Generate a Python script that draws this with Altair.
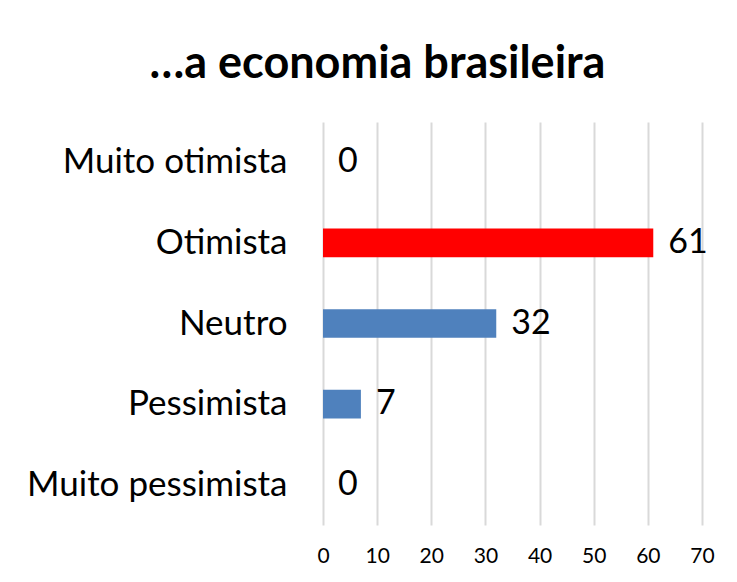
import altair as alt
import pandas as pd

categories = ["Muito otimista", "Otimista", "Neutro", "Pessimista", "Muito pessimista"]
values = [0, 61, 32, 7, 0]
highlight = "Otimista"
x_ticks = [0, 10, 20, 30, 40, 50, 60, 70]

df = pd.DataFrame({"categoria": categories, "valor": values})

FONT = "Lato"

y_enc = alt.Y(
    "categoria:N",
    sort=categories,
    scale=alt.Scale(paddingInner=0.645, paddingOuter=0.3225),
    axis=alt.Axis(
        title=None, ticks=False, domain=False, labelFontSize=35,
        labelColor="#000000", labelPadding=36, labelFont=FONT, labelLimit=400,
    ),
)
x_enc = alt.X(
    "valor:Q",
    scale=alt.Scale(domain=[0, 70], nice=False),
    axis=alt.Axis(
        title=None, values=x_ticks, ticks=False, domain=False,
        grid=True, gridColor="#d9d9d9", gridWidth=2, labelFlush=False,
        labelFontSize=21, labelColor="#000000", labelPadding=20, labelFont=FONT,
    ),
)

bars = alt.Chart(df).mark_bar().encode(
    x=x_enc,
    y=y_enc,
    color=alt.condition(
        alt.datum.categoria == highlight, alt.value("#ff0000"), alt.value("#4f81bd")
    ),
)

labels = alt.Chart(df).mark_text(
    align="left", baseline="middle", dx=15, fontSize=34, font=FONT, color="#000000"
).encode(
    x="valor:Q",
    y=alt.Y("categoria:N", sort=categories),
    text="valor:Q",
)

chart = (
    alt.layer(bars, labels)
    .properties(
        width=379,
        height=403,
        title=alt.TitleParams(
            "…a economia brasileira", fontSize=45, fontWeight="bold", font=FONT,
            color="#000000", anchor="middle", dx=-135, offset=35,
        ),
        autosize=alt.AutoSizeParams(type="none"),
        padding={"left": 315, "top": 114, "right": 27, "bottom": 49},
        background="#ffffff",
    )
    .configure_view(stroke=None)
)

chart.save("out.html", embed_options={"renderer": "svg", "actions": False})
